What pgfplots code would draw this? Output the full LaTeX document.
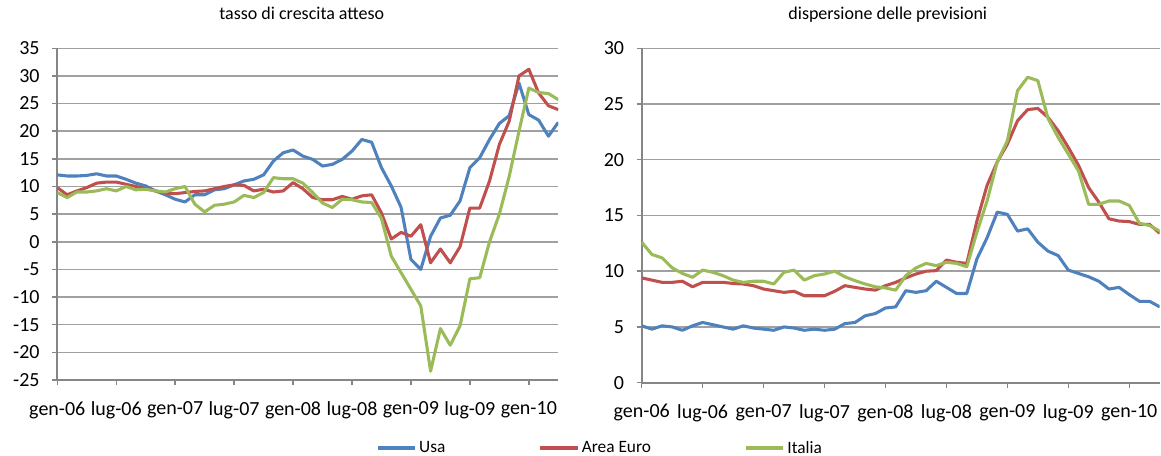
\documentclass[border=0pt]{standalone}
\usepackage{fontspec}
\setmainfont{Carlito}
\usepackage{pgfplots}
\pgfplotsset{compat=1.18}
\definecolor{cUsa}{HTML}{4F81BD}
\definecolor{cEur}{HTML}{C0504D}
\definecolor{cIta}{HTML}{9BBB59}
\definecolor{gridc}{HTML}{A0A0A0}
\definecolor{axc}{HTML}{868686}

\pgfplotstableread{
i usa eur ita
0 12.1 9.8 8.9
1 11.9 8.5 8.0
2 11.9 9.2 9.0
3 12.0 9.8 9.0
4 12.3 10.6 9.2
5 11.9 10.8 9.6
6 11.9 10.8 9.2
7 11.3 10.4 10.0
8 10.6 10.0 9.4
9 10.1 9.6 9.5
10 9.2 9.2 9.2
11 8.5 8.8 9.0
12 7.7 8.7 9.6
13 7.2 8.9 10.0
14 8.5 9.1 6.8
15 8.5 9.2 5.4
16 9.4 9.6 6.6
17 9.6 10.0 6.8
18 10.3 10.3 7.2
19 11.0 10.2 8.4
20 11.3 9.2 8.0
21 12.1 9.5 8.9
22 14.6 9.0 11.6
23 16.1 9.2 11.4
24 16.6 10.7 11.4
25 15.5 9.6 10.6
26 14.9 8.0 8.9
27 13.7 7.6 7.0
28 14.0 7.6 6.2
29 14.9 8.2 7.7
30 16.4 7.7 7.6
31 18.5 8.3 7.2
32 18.0 8.5 7.1
33 13.4 5.2 4.2
34 10.1 0.5 -2.6
35 6.2 1.7 -5.6
36 -3.2 1.0 -8.6
37 -5.0 3.1 -11.6
38 1.0 -3.8 -23.4
39 4.3 -1.3 -15.7
40 4.8 -3.8 -18.7
41 7.4 -0.9 -15.2
42 13.4 6.1 -6.7
43 15.2 6.1 -6.5
44 18.5 11.0 0.0
45 21.4 17.6 5.0
46 22.8 21.8 11.8
47 28.7 30.0 20.0
48 23.0 31.2 27.8
49 22.0 26.9 27.0
50 19.1 24.6 26.8
51 21.6 23.9 25.7
}\growth

\pgfplotstableread{
i usa eur ita
0 5.1 9.4 12.6
1 4.8 9.2 11.5
2 5.1 9.0 11.2
3 5.0 9.0 10.3
4 4.7 9.1 9.8
5 5.1 8.6 9.45
6 5.4 9.0 10.1
7 5.2 9.0 9.9
8 5.0 9.0 9.6
9 4.8 8.9 9.2
10 5.1 8.85 9.0
11 4.9 8.7 9.1
12 4.8 8.4 9.1
13 4.7 8.25 8.85
14 5.0 8.1 9.9
15 4.9 8.2 10.1
16 4.7 7.8 9.2
17 4.8 7.8 9.6
18 4.7 7.8 9.75
19 4.8 8.2 10.0
20 5.3 8.7 9.5
21 5.4 8.55 9.15
22 6.0 8.4 8.85
23 6.2 8.3 8.6
24 6.7 8.7 8.5
25 6.8 9.0 8.3
26 8.25 9.4 9.6
27 8.1 9.75 10.3
28 8.25 10.0 10.7
29 9.1 10.05 10.5
30 8.55 11.0 10.8
31 8.0 10.8 10.7
32 8.0 10.7 10.4
33 11.1 14.5 13.5
34 13.0 17.7 16.3
35 15.3 19.8 19.8
36 15.1 21.4 21.7
37 13.6 23.5 26.2
38 13.8 24.5 27.4
39 12.6 24.6 27.1
40 11.8 23.8 23.7
41 11.4 22.6 22.0
42 10.1 21.1 20.5
43 9.8 19.5 19.0
44 9.5 17.5 16.0
45 9.1 16.2 16.0
46 8.4 14.7 16.3
47 8.55 14.5 16.3
48 7.9 14.45 15.9
49 7.3 14.2 14.3
50 7.3 14.2 14.1
51 6.8 13.4 13.6
}\disp

\pgfplotsset{myaxis/.style={
  scale only axis,
  axis x line*=bottom,
  axis y line*=left,
  tick align=outside,
  major tick length=3.75pt,
  ymajorgrids,
  grid style={gridc, line width=1.1pt},
  axis line style={axc, line width=1.6pt},
  tick style={axc, line width=1.1pt},
  xmin=0, xmax=51,
  xtick={0,6,...,48},
  xticklabels={gen-06,lug-06,gen-07,lug-07,gen-08,lug-08,gen-09,lug-09,gen-10},
  xticklabel style={font=\fontsize{15}{17}\selectfont, yshift=-9pt},
  yticklabel style={font=\fontsize{15}{17}\selectfont, xshift=-6pt},
  /pgf/number format/assume math mode=true,
  every axis plot/.append style={line width=2.3pt, no markers, line join=round},
  title style={font=\fontsize{13.5}{15}\selectfont, anchor=base, yshift=15.3pt},
}}

\begin{document}
\begin{tikzpicture}
\useasboundingbox (0,0) rectangle (870.75pt,-342pt);
\begin{axis}[myaxis,
  at={(42.975pt,-36.2pt)}, anchor=north west,
  width=375.75pt, height=248.8pt,
  ymin=-25, ymax=35, ytick={-25,-20,...,35},
  title={tasso di crescita atteso},
  title style={at={(0.488,1)}},
  legend style={at={(1.084,-0.205)}, anchor=center, draw=none, fill=none,
    legend columns=3, font=\fontsize{13}{15}\selectfont,
    /tikz/every odd column/.append style={column sep=0pt},
    /tikz/every even column/.append style={column sep=68pt}},
  legend image code/.code={\draw[#1, line width=2.3pt] (0pt,0pt) -- (28pt,0pt);},
]
\addplot[cUsa] table[x=i, y=usa] {\growth};
\addplot[cEur] table[x=i, y=eur] {\growth};
\addplot[cIta] table[x=i, y=ita] {\growth};
\legend{Usa, Area Euro, Italia}
\end{axis}
\begin{axis}[myaxis,
  at={(481.3pt,-36.2pt)}, anchor=north west,
  width=388.5pt, height=250.8pt,
  ymin=0, ymax=30, ytick={0,5,...,30},
  title={dispersione delle previsioni},
  title style={at={(0.475,1)}},
]
\addplot[cUsa] table[x=i, y=usa] {\disp};
\addplot[cEur] table[x=i, y=eur] {\disp};
\addplot[cIta] table[x=i, y=ita] {\disp};
\end{axis}
\end{tikzpicture}
\end{document}
